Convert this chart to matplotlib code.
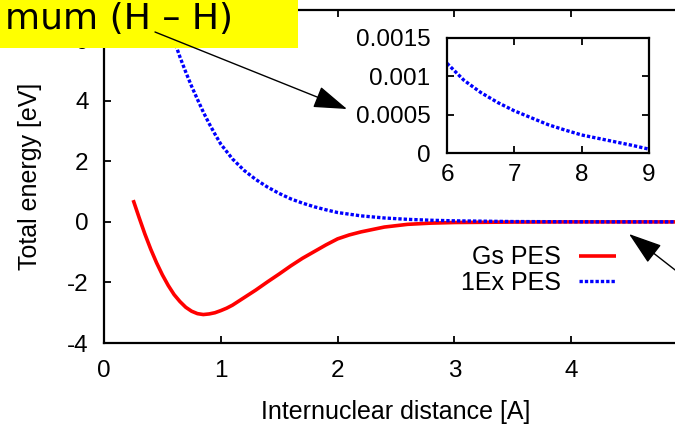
import matplotlib
matplotlib.use("Agg")
import matplotlib.pyplot as plt
from matplotlib.patches import Rectangle

plt.rcParams['font.family'] = ['Liberation Sans', 'DejaVu Sans']

# ---------------- data ----------------
gs_x = [0.25, 0.3, 0.35, 0.4, 0.45, 0.5, 0.55, 0.6, 0.65, 0.7, 0.75, 0.8, 0.85,
        0.9, 0.95, 1.0, 1.05, 1.1, 1.2, 1.3, 1.4, 1.5, 1.6, 1.7, 1.8, 1.9,
        2.0, 2.1, 2.2, 2.4, 2.6, 2.8, 3.0, 3.5, 4.0, 4.5, 5.0]
gs_y = [0.72, 0.15, -0.4, -0.9, -1.35, -1.75, -2.1, -2.4, -2.63, -2.82, -2.95,
        -3.03, -3.06, -3.04, -3.0, -2.93, -2.85, -2.75, -2.5, -2.25, -1.98,
        -1.72, -1.45, -1.2, -0.98, -0.76, -0.56, -0.43, -0.33, -0.17, -0.08,
        -0.04, -0.02, -0.005, 0.0, 0.0, 0.0]

ex_x = [0.25, 0.4, 0.5, 0.6, 0.65, 0.7, 0.75, 0.8, 0.85, 0.9, 0.95, 1.0, 1.1,
        1.2, 1.3, 1.4, 1.5, 1.6, 1.7, 1.8, 1.9, 2.0, 2.2, 2.4, 2.6, 2.8, 3.0,
        3.5, 4.0, 4.5, 5.0]
ex_y = [11.5, 8.6, 7.2, 6.0, 5.45, 4.95, 4.48, 4.05, 3.63, 3.25, 2.9, 2.57,
        2.08, 1.70, 1.40, 1.15, 0.94, 0.76, 0.62, 0.50, 0.40, 0.31, 0.20,
        0.13, 0.085, 0.055, 0.036, 0.012, 0.005, 0.0025, 0.0018]

inset_x = [6.0, 6.25, 6.5, 6.75, 7.0, 7.25, 7.5, 7.75, 8.0, 8.25, 8.5, 8.75, 9.0]
inset_y = [0.00117, 0.00095, 0.00079, 0.00066, 0.00055, 0.00046, 0.00037,
           0.0003, 0.000235, 0.00019, 0.000145, 0.0001, 0.00005]

main_xticks = [0, 1, 2, 3, 4]
main_xticklabels = ['0', '1', '2', '3', '4']
main_yticks = [-4, -2, 0, 2, 4, 6]
main_yticklabels = ['-4', '-2', '0', '2', '4', '6']
inset_xticks = [6, 7, 8, 9]
inset_xticklabels = ['6', '7', '8', '9']
inset_yticks = [0, 0.0005, 0.001, 0.0015]
inset_yticklabels = ['0', '0.0005', '0.001', '0.0015']

labels = ['Gs PES', '1Ex PES']
note_text = 'mum (H \u2013 H)'

# ---------------- figure ----------------
W, H = 675, 424
fig = plt.figure(figsize=(W / 100, H / 100), dpi=100)


def fx(px):
    return px / W


def fy(py):
    return 1 - py / H


red = '#ff0000'
blue = '#0000ff'
blue_ls = (0, (1.0, 0.6))

ax = fig.add_axes([fx(104), fy(343), fx(688) - fx(104), fy(10) - fy(343)])
ax.plot(gs_x, gs_y, color=red, lw=2.6, label=labels[0], solid_capstyle='butt')
ax.plot(ex_x, ex_y, color=blue, lw=2.4, ls=blue_ls, label=labels[1])
ax.set_xlim(0, 5)
ax.set_ylim(-4, 7)
ax.set_xticks(main_xticks)
ax.set_xticklabels(main_xticklabels)
ax.set_yticks(main_yticks)
ax.set_yticklabels(main_yticklabels)
ax.tick_params(direction='in', length=5, width=1.3, top=True, right=True,
               labelsize=17.5, colors='black')
ax.tick_params(axis='x', pad=12)
ax.tick_params(axis='y', pad=11)
for s in ax.spines.values():
    s.set_linewidth(1.6)
ax.set_xlabel('Internuclear distance [A]', fontsize=18, labelpad=13)
ax.set_ylabel('Total energy [eV]', fontsize=18, labelpad=18)

leg = ax.legend(loc='center right', bbox_to_anchor=(fx(616), fy(270)),
                bbox_transform=fig.transFigure, frameon=False, markerfirst=False,
                fontsize=18, handlelength=1.5, handletextpad=0.7,
                labelspacing=0.05, borderpad=0, borderaxespad=0)

# inset
axi = fig.add_axes([fx(447), fy(153), fx(649) - fx(447), fy(38) - fy(153)])
axi.plot(inset_x, inset_y, color=blue, lw=2.4, ls=blue_ls)
axi.set_xlim(6, 9)
axi.set_ylim(0, 0.0015)
axi.set_xticks(inset_xticks)
axi.set_xticklabels(inset_xticklabels)
axi.set_yticks(inset_yticks)
axi.set_yticklabels(inset_yticklabels)
axi.tick_params(direction='in', length=5, width=1.3, top=True, right=True,
                labelsize=17.5)
axi.tick_params(axis='x', pad=8)
axi.tick_params(axis='y', pad=12)
for s in axi.spines.values():
    s.set_linewidth(1.6)

# yellow note box
fig.patches.append(Rectangle((fx(0), fy(48)), fx(298), fy(0) - fy(48),
                             transform=fig.transFigure, facecolor='#ffff00',
                             edgecolor='none', zorder=5))
fig.text(fx(233), fy(29), note_text, ha='right', va='baseline',
         fontsize=26, family='DejaVu Sans', color='black', zorder=6)

# arrows
arrow_kw = dict(arrowstyle='-|>,head_length=21,head_width=7', mutation_scale=1,
                color='black', lw=1.0, shrinkA=0, shrinkB=0)
fig.add_artist(plt.Annotation('', xy=(fx(347), fy(109)), xytext=(fx(155), fy(32)),
                              xycoords='figure fraction', textcoords='figure fraction',
                              arrowprops=arrow_kw, annotation_clip=False, zorder=7))
fig.add_artist(plt.Annotation('', xy=(fx(629), fy(234)), xytext=(fx(720), fy(305)),
                              xycoords='figure fraction', textcoords='figure fraction',
                              arrowprops=arrow_kw, annotation_clip=False, zorder=7))

fig.savefig('out.png', dpi=100)
